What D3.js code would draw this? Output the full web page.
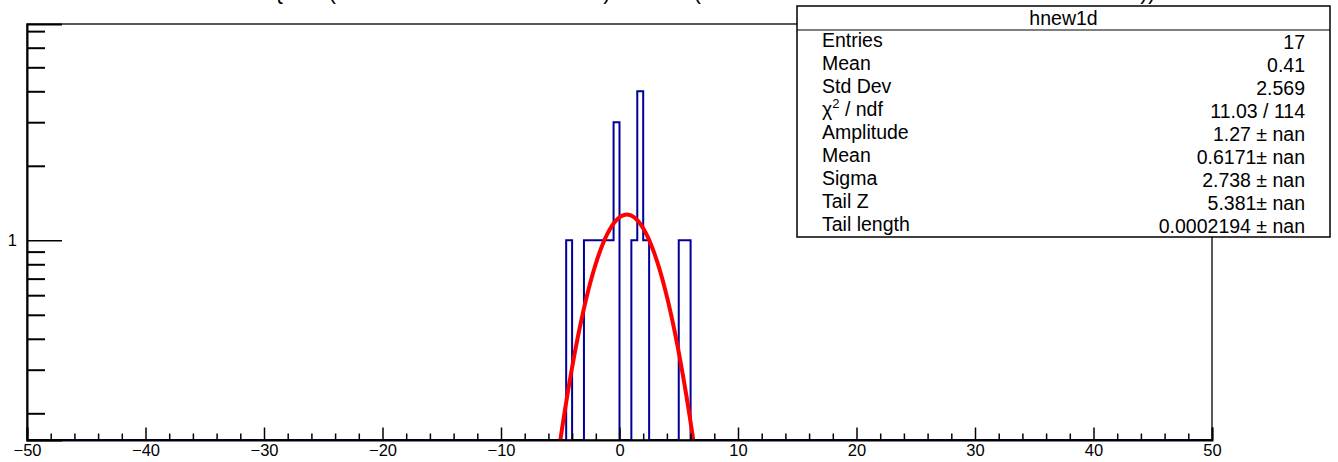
<!DOCTYPE html>
<html>
<head>
<meta charset="utf-8">
<script src="https://cdn.jsdelivr.net/npm/d3@7"></script>
<style>
  html, body { margin: 0; padding: 0; background: #fff; }
  svg { display: block; font-family: "Liberation Sans", Arial, Helvetica, sans-serif; }
</style>
</head>
<body>
<svg id="chart" width="1338" height="462"></svg>
<script>
// ---------------- data ----------------
const histName = "hnew1d";
const xDomain = [-50, 50];
const binWidth = 0.5;
// lower edges of the non-empty bins and their contents
const binLowEdges = [-4.5, -3, -2.5, -2, -1.5, -1, -0.5, 1, 1.5, 2, 5, 5.5];
const binCounts   = [1, 1, 1, 1, 1, 1, 3, 1, 4, 1, 1, 1];
const xMajorTicks = [-50, -40, -30, -20, -10, 0, 10, 20, 30, 40, 50];
const xTickLabels = ["\u221250", "\u221240", "\u221230", "\u221220", "\u221210", "0", "10", "20", "30", "40", "50"];
const yDomain = [0.156, 7.48];
const yMajorTicks = [1];
const yTickLabels = ["1"];
const yMinorTicks = [0.2, 0.3, 0.4, 0.5, 0.6, 0.7, 0.8, 0.9, 2, 3, 4, 5, 6, 7];
// fit parameters (Gaussian) as shown in the stats box
const fitAmplitude = 1.27;
const fitMean = 0.6171;
const fitSigma = 2.738;
// stats box content
const statLabels = ["Entries", "Mean", "Std Dev", "CHI2", "Amplitude", "Mean", "Sigma", "Tail Z", "Tail length"];
const statValues = ["17", "0.41", "2.569", "11.03 / 114", "1.27 \u00b1 nan", "0.6171\u00b1 nan", "2.738 \u00b1 nan", "5.381\u00b1 nan", "0.0002194 \u00b1 nan"];
// visible fragments of the (cut-off) title
const titleGlyphs = ["{", "(", ")", "(", "))"];
const titleGlyphX = [279, 332, 607, 697, 1148];

// ---------------- layout ----------------
const frame = { left: 27, right: 1212, top: 24, bottom: 440 };
const svg = d3.select("#chart");

const x = d3.scaleLinear().domain(xDomain).range([frame.left, frame.right]);
const y = d3.scaleLog().domain(yDomain).range([frame.bottom, frame.top]);

svg.append("defs").append("clipPath").attr("id", "frameClip")
  .append("rect")
  .attr("x", frame.left).attr("y", frame.top)
  .attr("width", frame.right - frame.left).attr("height", frame.bottom - frame.top);

// title fragments (cut off above the canvas)
svg.append("g").selectAll("text").data(titleGlyphs).join("text")
  .attr("x", (d, i) => titleGlyphX[i])
  .attr("y", -1)
  .attr("text-anchor", "middle")
  .attr("font-size", 23)
  .attr("fill", "#000")
  .text(d => d);

// ---------------- histogram ----------------
const nBins = Math.round((xDomain[1] - xDomain[0]) / binWidth);
const contents = new Array(nBins).fill(0);
binLowEdges.forEach((lo, i) => {
  const idx = Math.round((lo - xDomain[0]) / binWidth);
  contents[idx] = binCounts[i];
});
const pts = [];
contents.forEach((c, i) => {
  const lo = xDomain[0] + i * binWidth;
  const hi = lo + binWidth;
  pts.push([lo, c]); pts.push([hi, c]);
});
const histLine = d3.line()
  .x(d => x(d[0]))
  .y(d => d[1] > 0 ? y(d[1]) : frame.bottom);

const plot = svg.append("g").attr("clip-path", "url(#frameClip)");
plot.append("path")
  .attr("d", histLine(pts))
  .attr("fill", "none")
  .attr("stroke", "#000099")
  .attr("stroke-width", 2);

// ---------------- fit curve ----------------
const fitX = d3.range(xDomain[0], xDomain[1] + 0.001, 0.05);
const fitPts = fitX.map(v => [v, fitAmplitude * Math.exp(-0.5 * Math.pow((v - fitMean) / fitSigma, 2))]);
const fitLine = d3.line()
  .defined(d => d[1] > yDomain[0] * 0.3)
  .x(d => x(d[0]))
  .y(d => y(d[1]));
plot.append("path")
  .attr("d", fitLine(fitPts))
  .attr("fill", "none")
  .attr("stroke", "#ff0000")
  .attr("stroke-width", 4)
  .attr("stroke-linejoin", "round");

// ---------------- frame & axes ----------------
svg.append("rect")
  .attr("x", frame.left).attr("y", frame.top)
  .attr("width", frame.right - frame.left).attr("height", frame.bottom - frame.top)
  .attr("fill", "none").attr("stroke", "#000").attr("stroke-width", 1.3);

// x axis
const xMinor = d3.range(xDomain[0], xDomain[1] + 0.001, 2).filter(v => !xMajorTicks.includes(v));
const xAxisMajor = d3.axisBottom(x).tickValues(xMajorTicks).tickSize(-12.5)
  .tickFormat((d, i) => xTickLabels[i]).tickPadding(4);
const gx = svg.append("g").attr("transform", `translate(0,${frame.bottom})`).call(xAxisMajor);
gx.select(".domain").attr("stroke", "#000").attr("stroke-width", 2);
gx.selectAll(".tick line").attr("stroke", "#000").attr("stroke-width", 1.5);
gx.selectAll(".tick text").attr("font-size", 16.5).attr("fill", "#000")
  .attr("font-family", "Liberation Sans, Arial, sans-serif");
const xAxisMinor = d3.axisBottom(x).tickValues(xMinor).tickSize(-6.5).tickFormat("");
const gxm = svg.append("g").attr("transform", `translate(0,${frame.bottom})`).call(xAxisMinor);
gxm.select(".domain").remove();
gxm.selectAll(".tick line").attr("stroke", "#000").attr("stroke-width", 1.5);

// y axis
const yAxisMajor = d3.axisLeft(y).tickValues(yMajorTicks).tickSize(-35)
  .tickFormat((d, i) => yTickLabels[i]).tickPadding(10);
const gy = svg.append("g").attr("transform", `translate(${frame.left},0)`).call(yAxisMajor);
gy.select(".domain").attr("stroke", "#000").attr("stroke-width", 2);
gy.selectAll(".tick line").attr("stroke", "#000").attr("stroke-width", 1.5);
gy.selectAll(".tick text").attr("font-size", 16.5).attr("fill", "#000")
  .attr("font-family", "Liberation Sans, Arial, sans-serif");
const yAxisMinor = d3.axisLeft(y).tickValues(yMinorTicks).tickSize(-18).tickFormat("");
const gym = svg.append("g").attr("transform", `translate(${frame.left},0)`).call(yAxisMinor);
gym.select(".domain").remove();
gym.selectAll(".tick line").attr("stroke", "#000").attr("stroke-width", 2);

// ---------------- stats box ----------------
const box = { left: 797, right: 1330, top: 6, bottom: 237, header: 30 };
const fs = 19.5;
const sb = svg.append("g");
sb.append("rect")
  .attr("x", box.left).attr("y", box.top)
  .attr("width", box.right - box.left).attr("height", box.bottom - box.top)
  .attr("fill", "#fff").attr("stroke", "#000").attr("stroke-width", 1.5);
sb.append("line")
  .attr("x1", box.left).attr("x2", box.right)
  .attr("y1", box.header).attr("y2", box.header)
  .attr("stroke", "#000").attr("stroke-width", 1.2);
sb.append("text")
  .attr("x", (box.left + box.right) / 2).attr("y", 25)
  .attr("text-anchor", "middle").attr("font-size", fs).attr("fill", "#000")
  .text(histName);
const rowH = (box.bottom - box.header) / statLabels.length;
statLabels.forEach((lab, i) => {
  const cy = box.header + rowH * (i + 0.5);
  const t = sb.append("text")
    .attr("x", 822).attr("y", cy + 5.5)
    .attr("font-size", fs).attr("fill", "#000");
  if (lab === "CHI2") {
    t.append("tspan").text("\u03c7");
    t.append("tspan").attr("dy", -8).attr("font-size", 13).text("2");
    t.append("tspan").attr("dy", 8).text(" / ndf");
  } else {
    t.text(lab);
  }
  sb.append("text")
    .attr("x", 1305).attr("y", cy + 7.5)
    .attr("text-anchor", "end")
    .attr("font-size", fs).attr("fill", "#000")
    .text(statValues[i]);
});
</script>
</body>
</html>
